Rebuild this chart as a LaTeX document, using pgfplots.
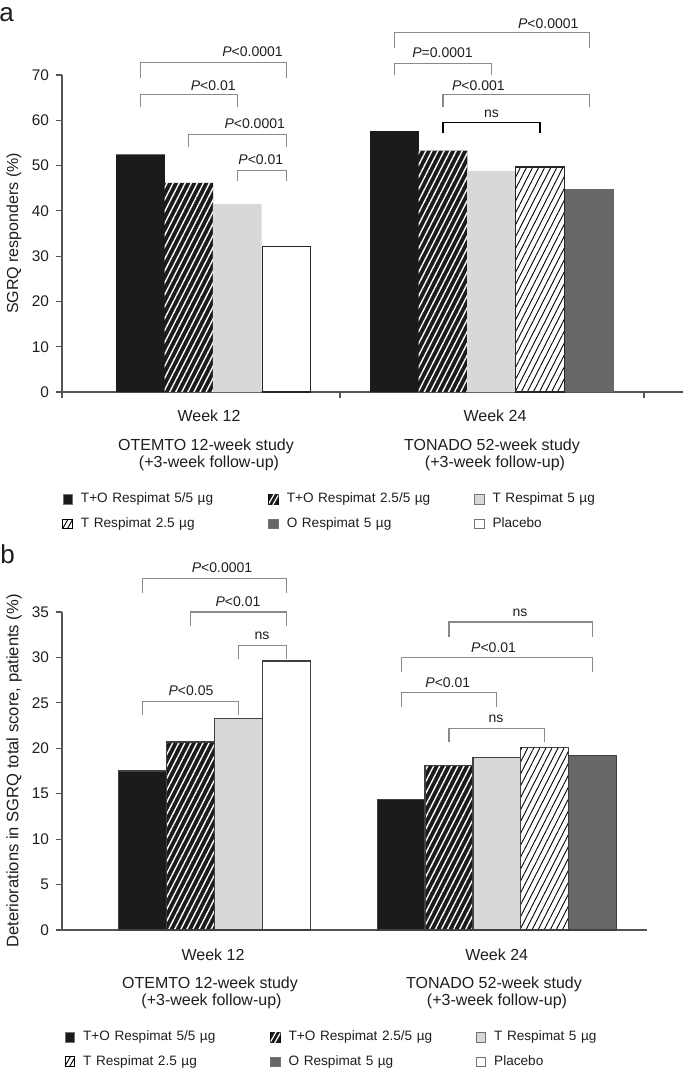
\documentclass[border=0pt]{standalone}
\usepackage{fontspec}
\setmainfont{Liberation Sans}
\usepackage{pgfplots}
\pgfplotsset{compat=1.18}
\usetikzlibrary{patterns.meta}
\definecolor{barblack}{HTML}{1B1B1B}
\definecolor{barlight}{HTML}{D8D8D8}
\definecolor{bardark}{HTML}{676767}
\definecolor{brgray}{HTML}{8A8A8A}
\definecolor{axgray}{HTML}{555555}
\definecolor{txt}{HTML}{1E1E1E}
\tikzset{
  hatchB/.style={fill=barblack, postaction={pattern color=white, pattern={Lines[angle=63,distance=2.7pt,line width=0.7pt]}}},
  hatchW/.style={fill=white, postaction={pattern color=black, pattern={Lines[angle=63,distance=2.7pt,line width=0.45pt]}}},
  br/.style={draw=brgray, line width=0.55pt},
  plab/.style={font=\fontsize{7}{8}\selectfont, text=txt, inner sep=0pt},
  cat/.style={font=\fontsize{8}{9.6}\selectfont, text=txt, anchor=base, inner sep=0pt},
}
\pgfplotsset{
  mybar/.style={ybar, bar width=48.6, bar shift=0pt,
    legend image code/.code={\draw[draw=black!55, line width=0.4pt, ##1] (0pt,-2.4pt) rectangle (4.8pt,2.4pt);}},
  legHB/.style={legend image code/.code={%
    \begin{scope}
    \clip (0pt,-2.4pt) rectangle (4.8pt,2.4pt);
    \fill[barblack] (0pt,-2.4pt) rectangle (4.8pt,2.4pt);
    \draw[white, line width=0.6pt] (-0.4pt,-2.8pt) -- (2.8pt,2.8pt) (2.0pt,-2.8pt) -- (5.2pt,2.8pt);
    \end{scope}}},
  legHW/.style={legend image code/.code={%
    \begin{scope}
    \clip (0pt,-2.4pt) rectangle (4.8pt,2.4pt);
    \fill[white] (0pt,-2.4pt) rectangle (4.8pt,2.4pt);
    \draw[black, line width=0.45pt] (-0.4pt,-2.8pt) -- (2.8pt,2.8pt) (2.0pt,-2.8pt) -- (5.2pt,2.8pt);
    \end{scope}
    \draw[black, line width=0.45pt] (0pt,-2.4pt) rectangle (4.8pt,2.4pt);}},
  common/.style={
    scale only axis, clip=false,
    axis lines=left, axis line style={-, draw=axgray, line width=0.6pt},
    tick align=outside, major tick length=3pt,
    tick style={draw=axgray, line width=0.6pt},
    tick label style={font=\fontsize{7.7}{9}\selectfont, text=txt},
    /pgf/number format/assume math mode=true,
    legend columns=3, legend cell align=left,
  },
}
\begin{document}
\begin{tikzpicture}
\useasboundingbox (0,0) rectangle (342.5pt,-535pt);
% ---------------- panel a ----------------
\begin{axis}[common,
  at={(31pt,-196pt)}, anchor=south west,
  width=310.5pt, height=158.5pt,
  xmin=0, xmax=621, ymin=0, ymax=70,
  xtick={0,278,582}, xticklabels={,,},
  ytick={0,10,...,70},
  ylabel={SGRQ responders (\%)},
  every axis y label/.style={at={(axis description cs:-0.0773,0.5)}, rotate=90, anchor=center, font=\fontsize{8}{9.6}\selectfont, text=txt},
  legend style={draw=none, fill=none, at={(axis description cs:0.0008,-0.318)}, anchor=north west,
    inner sep=0pt, outer sep=0pt, column sep=0pt, row sep=5.8pt,
    font=\fontsize{6.8}{8}\selectfont, text=txt,
    nodes={text width=93.7pt, inner sep=0pt, text height=5pt, text depth=1.5pt},
    /tikz/every odd column/.append style={column sep=4pt}},
]
\addplot[mybar, fill=barblack, draw=none] coordinates {(78.5,52.5) (332.5,57.6)};
\addlegendentry{T+O Respimat 5/5 µg}
\addplot[mybar, hatchB, draw=none, forget plot] coordinates {(126.9,46.2) (381,53.3)};
\addlegendimage{legHB}
\addlegendentry{T+O Respimat 2.5/5 µg}
\addplot[mybar, fill=barlight, draw=none] coordinates {(175.2,41.5) (429.5,48.8)};
\addlegendentry{T Respimat 5 µg}
\addplot[mybar, hatchW, draw=black!85, line width=0.6pt, forget plot] coordinates {(478,49.7)};
\addlegendimage{legHW}
\addlegendentry{T Respimat 2.5 µg}
\addplot[mybar, fill=bardark, draw=none] coordinates {(527.5,44.9)};
\addlegendentry{O Respimat 5 µg}
\addplot[mybar, fill=white, draw=black!85, line width=0.6pt] coordinates {(224.5,32.1)};
\addlegendentry{Placebo}
% brackets
\draw[br] (axis cs:78.5,69.3) |- (axis cs:224.5,72.8) -- (axis cs:224.5,69.3);
\draw[br] (axis cs:78.5,62.9) |- (axis cs:175.2,65.6) -- (axis cs:175.2,62.9);
\draw[br] (axis cs:126.9,54.2) |- (axis cs:224.5,56.9) -- (axis cs:224.5,54.2);
\draw[br] (axis cs:175.2,46.6) |- (axis cs:224.5,48.95) -- (axis cs:224.5,46.6);
\draw[br] (axis cs:332.5,75.9) |- (axis cs:527.5,79.3) -- (axis cs:527.5,75.9);
\draw[br] (axis cs:332.5,70.0) |- (axis cs:429.5,72.6) -- (axis cs:429.5,70.0);
\draw[br] (axis cs:381,62.9) |- (axis cs:527.5,65.6) -- (axis cs:527.5,62.9);
\draw[br, draw=black] (axis cs:381,57.1) |- (axis cs:478,59.5) -- (axis cs:478,57.1);
\node[plab] at (axis cs:190.5,75.1) {\textit{P}<0.0001};
\node[plab] at (axis cs:151.2,67.6) {\textit{P}<0.01};
\node[plab] at (axis cs:192.7,59.2) {\textit{P}<0.0001};
\node[plab] at (axis cs:198.8,51.4) {\textit{P}<0.01};
\node[plab] at (axis cs:486.3,81.4) {\textit{P}<0.0001};
\node[plab] at (axis cs:380.5,74.9) {\textit{P}=0.0001};
\node[plab] at (axis cs:416.4,67.6) {\textit{P}<0.001};
\node[plab] at (axis cs:429.5,61.5) {ns};
\end{axis}
% ---------------- panel b ----------------
\begin{axis}[common,
  at={(31pt,-465pt)}, anchor=south west,
  width=292.35pt, height=159pt,
  xmin=0, xmax=584.7, ymin=0, ymax=35,
  xtick=\empty,
  ytick={0,5,...,35},
  ylabel={Deteriorations in SGRQ total score, patients (\%)},
  every axis y label/.style={at={(axis description cs:-0.0821,0.5)}, rotate=90, anchor=center, font=\fontsize{8.3}{9.6}\selectfont, text=txt},
  legend style={draw=none, fill=none, at={(axis description cs:0.0046,-0.317)}, anchor=north west,
    inner sep=0pt, outer sep=0pt, column sep=0pt, row sep=5.7pt,
    font=\fontsize{6.8}{8}\selectfont, text=txt,
    nodes={text width=93.55pt, inner sep=0pt, text height=5pt, text depth=1.5pt},
    /tikz/every odd column/.append style={column sep=4pt}},
]
\addplot[mybar, bar width=48, fill=barblack, draw=black!75, line width=0.6pt] coordinates {(80.85,17.5) (339.5,14.4)};
\addlegendentry{T+O Respimat 5/5 µg}
\addplot[mybar, bar width=48, hatchB, draw=black!75, line width=0.6pt, forget plot] coordinates {(128.85,20.7) (387,18.1)};
\addlegendimage{legHB}
\addlegendentry{T+O Respimat 2.5/5 µg}
\addplot[mybar, bar width=48, fill=barlight, draw=black!75, line width=0.6pt] coordinates {(176.65,23.3) (434.9,19.0)};
\addlegendentry{T Respimat 5 µg}
\addplot[mybar, bar width=48, hatchW, draw=black!75, line width=0.6pt, forget plot] coordinates {(482.5,20.1)};
\addlegendimage{legHW}
\addlegendentry{T Respimat 2.5 µg}
\addplot[mybar, bar width=48, fill=bardark, draw=black!75, line width=0.6pt] coordinates {(530.5,19.2)};
\addlegendentry{O Respimat 5 µg}
\addplot[mybar, bar width=48, fill=white, draw=black!75, line width=0.6pt] coordinates {(224.5,29.6)};
\addlegendentry{Placebo}
% brackets
\draw[br] (axis cs:80.85,37.1) |- (axis cs:224.5,38.65) -- (axis cs:224.5,37.1);
\draw[br] (axis cs:128.85,33.5) |- (axis cs:224.5,35.0) -- (axis cs:224.5,33.5);
\draw[br] (axis cs:176.65,29.8) |- (axis cs:224.5,31.35) -- (axis cs:224.5,29.8);
\draw[br] (axis cs:80.85,23.7) |- (axis cs:176.65,25.2) -- (axis cs:176.65,23.7);
\draw[br] (axis cs:387,32.3) |- (axis cs:530.5,33.9) -- (axis cs:530.5,32.3);
\draw[br] (axis cs:339.5,28.45) |- (axis cs:530.5,30.0) -- (axis cs:530.5,28.45);
\draw[br] (axis cs:339.5,24.6) |- (axis cs:434.9,26.1) -- (axis cs:434.9,24.6);
\draw[br] (axis cs:387,20.7) |- (axis cs:482.5,22.2) -- (axis cs:482.5,20.7);
\node[plab] at (axis cs:160,39.9) {\textit{P}<0.0001};
\node[plab] at (axis cs:176,36.1) {\textit{P}<0.01};
\node[plab] at (axis cs:200,32.4) {ns};
\node[plab] at (axis cs:129,26.3) {\textit{P}<0.05};
\node[plab] at (axis cs:458,34.9) {ns};
\node[plab] at (axis cs:431.6,31.1) {\textit{P}<0.01};
\node[plab] at (axis cs:385.8,27.2) {\textit{P}<0.01};
\node[plab] at (axis cs:434,23.3) {ns};
\end{axis}
% ---------------- texts outside the axes ----------------
\begin{scope}[x=0.5pt,y=-0.5pt]
\node[font=\fontsize{13}{15}\selectfont, text=txt, anchor=center, inner sep=0pt] at (6.5,15) {a};
\node[font=\fontsize{13}{15}\selectfont, text=txt, anchor=center, inner sep=0pt] at (7.5,554) {b};
\node[cat] at (209,421.7) {Week 12};
\node[cat] at (206,450) {OTEMTO 12-week study};
\node[cat] at (209,467.5) {(+3-week follow-up)};
\node[cat] at (495,421.7) {Week 24};
\node[cat] at (492,450) {TONADO 52-week study};
\node[cat] at (495,467.5) {(+3-week follow-up)};
\node[cat] at (213,960) {Week 12};
\node[cat] at (210,988.4) {OTEMTO 12-week study};
\node[cat] at (211.5,1005.9) {(+3-week follow-up)};
\node[cat] at (496.7,960) {Week 24};
\node[cat] at (494,988.4) {TONADO 52-week study};
\node[cat] at (497,1005.9) {(+3-week follow-up)};
\end{scope}
\end{tikzpicture}
\end{document}
